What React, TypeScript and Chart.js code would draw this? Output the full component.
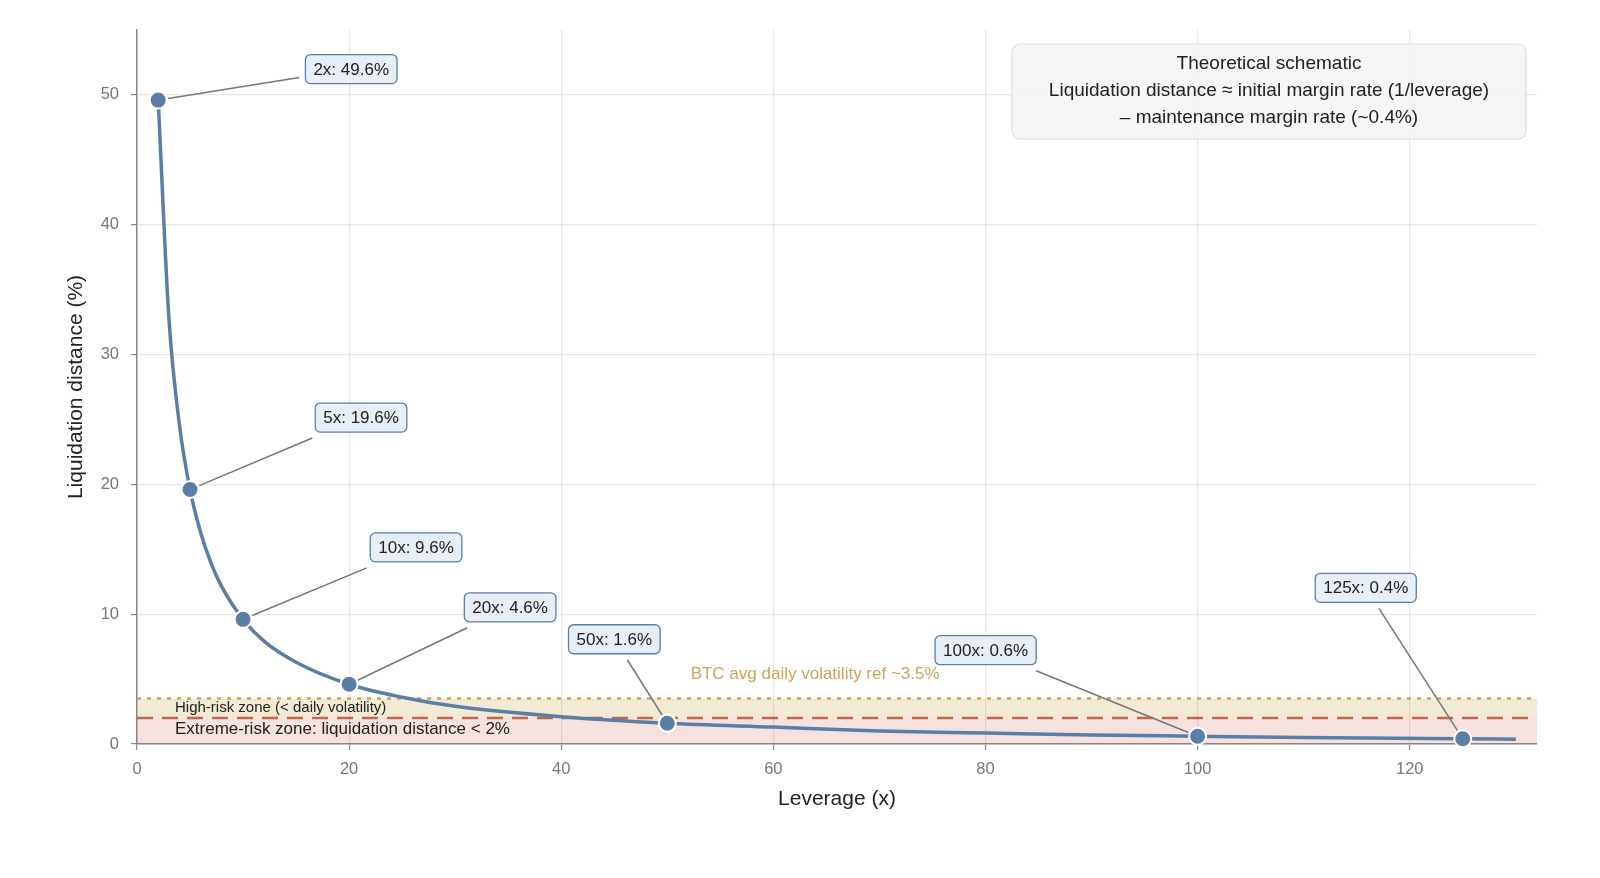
import { Chart, registerables, type Plugin } from 'chart.js';
import { useEffect, useRef } from 'react';

Chart.register(...registerables);

// curve
const leverage = [2, 3, 4, 5, 6, 7, 8, 10, 12, 15, 20, 25, 30, 40, 50, 60, 70, 80, 90, 100, 110, 125, 130];
const distance = [49.6, 32.9, 24.6, 19.6, 16.3, 13.9, 12.1, 9.6, 7.9, 6.3, 4.6, 3.6, 2.9, 2.1, 1.6, 1.3, 1.0, 0.85, 0.7, 0.6, 0.5, 0.4, 0.37];

// highlighted points
const markedLeverage = [2, 5, 10, 20, 50, 100, 125];
const markedDistance = [49.6, 19.6, 9.6, 4.6, 1.6, 0.6, 0.4];

// reference levels (%)
const volatilityRef = 3.5;
const extremeLevel = 2;

const xTicks = [0, 20, 40, 60, 80, 100, 120];
const yTicks = [0, 10, 20, 30, 40, 50];

const infoLines = [
  'Theoretical schematic',
  'Liquidation distance ≈ initial margin rate (1/leverage)',
  '– maintenance margin rate (~0.4%)',
];

const FONT = '"Liberation Sans", Arial, sans-serif';
const BLUE = '#5a7ea6';

// label box offsets from each marked point, px
const labelOffsets = [
  [193, -31],
  [171, -72],
  [173, -72],
  [161, -77],
  [-53, -84],
  [-212, -86],
  [-97, -151],
];

const zonesPlugin: Plugin<'line'> = {
  id: 'zones',
  beforeDatasetsDraw(chart) {
    const { ctx, chartArea: a, scales } = chart;
    const y = scales.y;
    const y0 = y.getPixelForValue(0);
    const y2 = y.getPixelForValue(extremeLevel);
    const y35 = y.getPixelForValue(volatilityRef);
    ctx.save();
    ctx.fillStyle = 'rgba(200,160,70,0.22)';
    ctx.fillRect(a.left, y35, a.right - a.left, y2 - y35);
    ctx.fillStyle = 'rgba(205,110,90,0.2)';
    ctx.fillRect(a.left, y2, a.right - a.left, y0 - y2);

    ctx.lineWidth = 2.5;
    ctx.strokeStyle = '#c9a557';
    ctx.setLineDash([4, 6]);
    ctx.beginPath();
    ctx.moveTo(a.left, y35);
    ctx.lineTo(a.right, y35);
    ctx.stroke();

    ctx.strokeStyle = '#c8654f';
    ctx.setLineDash([16, 9]);
    ctx.beginPath();
    ctx.moveTo(a.left, y2);
    ctx.lineTo(a.right, y2);
    ctx.stroke();
    ctx.setLineDash([]);

    ctx.textBaseline = 'middle';
    ctx.textAlign = 'left';
    ctx.fillStyle = '#222';
    ctx.font = `15px ${FONT}`;
    ctx.fillText('High-risk zone (< daily volatility)', a.left + 38, y35 + 9);
    ctx.font = `17px ${FONT}`;
    ctx.fillText('Extreme-risk zone: liquidation distance < 2%', a.left + 38, y2 + 11);

    ctx.fillStyle = '#c9a557';
    ctx.font = `17px ${FONT}`;
    ctx.fillText('BTC avg daily volatility ref ~3.5%', scales.x.getPixelForValue(52.2), y35 - 24);
    ctx.restore();
  },
};

const labelsPlugin: Plugin<'line'> = {
  id: 'pointLabels',
  afterDatasetsDraw(chart) {
    const { ctx, scales, chartArea: a } = chart;
    ctx.save();
    ctx.font = `17px ${FONT}`;
    markedLeverage.forEach((lev, i) => {
      const px = scales.x.getPixelForValue(lev);
      const py = scales.y.getPixelForValue(markedDistance[i]);
      const text = `${lev}x: ${markedDistance[i]}%`;
      const cx = px + labelOffsets[i][0];
      const cy = py + labelOffsets[i][1];
      const w = ctx.measureText(text).width + 16;
      const h = 29;
      // leader line
      const dx = px - cx;
      const dy = py - cy;
      const t = Math.min((w / 2 + 6) / Math.abs(dx || 1e-6), (h / 2 + 6) / Math.abs(dy || 1e-6));
      const ex = cx + dx * t;
      const ey = cy + dy * t;
      const len = Math.hypot(dx, dy);
      const sx = px - (dx / len) * 10;
      const sy = py - (dy / len) * 10;
      ctx.strokeStyle = '#777';
      ctx.lineWidth = 1.5;
      ctx.beginPath();
      ctx.moveTo(sx, sy);
      ctx.lineTo(ex, ey);
      ctx.stroke();
      // box
      ctx.fillStyle = '#e8eef6';
      ctx.strokeStyle = BLUE;
      ctx.lineWidth = 1.3;
      ctx.beginPath();
      ctx.roundRect(cx - w / 2, cy - h / 2, w, h, 5);
      ctx.fill();
      ctx.stroke();
      ctx.fillStyle = '#222';
      ctx.textAlign = 'center';
      ctx.textBaseline = 'middle';
      ctx.fillText(text, cx, cy + 1);
    });

    // info box
    ctx.font = `19px ${FONT}`;
    const bw = 514;
    const bx = a.right - 11 - bw;
    const by = a.top + 14;
    ctx.fillStyle = 'rgba(245,245,245,0.95)';
    ctx.strokeStyle = '#dddddd';
    ctx.lineWidth = 1.2;
    ctx.beginPath();
    ctx.roundRect(bx, by, bw, 95, 8);
    ctx.fill();
    ctx.stroke();
    ctx.fillStyle = '#222';
    ctx.textAlign = 'center';
    ctx.textBaseline = 'middle';
    infoLines.forEach((line, i) => ctx.fillText(line, bx + bw / 2, by + 20 + i * 27));
    ctx.restore();
  },
};

export default function App() {
  const canvasRef = useRef<HTMLCanvasElement>(null);

  useEffect(() => {
    document.body.style.margin = '0';
    if (!canvasRef.current) return;
    Chart.defaults.font.family = FONT;

    const chart = new Chart(canvasRef.current, {
      type: 'line',
      data: {
        datasets: [
          {
            label: 'marked',
            data: markedLeverage.map((x, i) => ({ x, y: markedDistance[i] })),
            showLine: false,
            pointRadius: 8.5,
            pointBackgroundColor: BLUE,
            pointBorderColor: '#ffffff',
            pointBorderWidth: 2,
            clip: false,
          },
          {
            label: 'curve',
            data: leverage.map((x, i) => ({ x, y: distance[i] })),
            borderColor: BLUE,
            borderWidth: 3.5,
            pointRadius: 0,
            cubicInterpolationMode: 'monotone',
            fill: false,
          },
        ],
      },
      options: {
        animation: false,
        responsive: true,
        maintainAspectRatio: false,
        layout: { padding: { top: 30, right: 63, left: 60, bottom: 62 } },
        plugins: {
          legend: { display: false },
          tooltip: { enabled: false },
        },
        scales: {
          x: {
            type: 'linear',
            min: 0,
            max: 132,
            afterBuildTicks: (s) => {
              s.ticks = xTicks.map((value) => ({ value }));
            },
            afterFit: (s) => {
              s.height = 72;
            },
            ticks: { color: '#777', font: { size: 16.5 }, padding: 10 },
            grid: { color: '#e6e6e6', tickColor: '#888', tickLength: 6, lineWidth: 1.2 },
            border: { color: '#888', width: 1.5 },
            title: {
              display: true,
              text: 'Leverage (x)',
              color: '#222',
              font: { size: 21 },
              padding: { top: 14 },
            },
          },
          y: {
            type: 'linear',
            min: 0,
            max: 55,
            afterBuildTicks: (s) => {
              s.ticks = yTicks.map((value) => ({ value }));
            },
            afterFit: (s) => {
              s.width = 77;
            },
            ticks: { color: '#777', font: { size: 16.5 }, padding: 12 },
            grid: { color: '#e6e6e6', tickColor: '#888', tickLength: 6, lineWidth: 1.2 },
            border: { color: '#888', width: 1.5 },
            title: {
              display: true,
              text: 'Liquidation distance (%)',
              color: '#222',
              font: { size: 21 },
              padding: { bottom: 22 },
            },
          },
        },
      },
      plugins: [zonesPlugin, labelsPlugin],
    });

    return () => chart.destroy();
  }, []);

  return (
    <div style={{ position: 'absolute', left: 0, top: 0, width: 1600, height: 878, background: '#fff' }}>
      <canvas ref={canvasRef} />
    </div>
  );
}
